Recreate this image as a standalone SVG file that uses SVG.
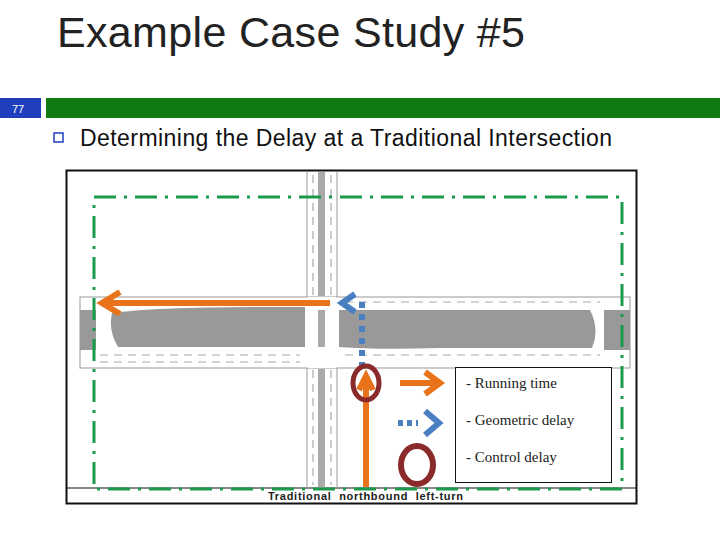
<svg xmlns="http://www.w3.org/2000/svg" width="720" height="540" viewBox="0 0 720 540">
<style>
.t{font-family:"Liberation Sans",Arial,sans-serif}
.s{font-family:"Liberation Serif","Times New Roman",serif;font-size:15px;fill:#222}
.lane{stroke:#aaa;stroke-width:1.2;stroke-dasharray:8 6;fill:none}
.or{stroke:#e8731a;stroke-width:6;fill:none}
.bl{stroke:#4a7fc1;stroke-width:6;fill:none}
</style>
<rect width="720" height="540" fill="#fff"/>
<g id="header">
<text class="t" x="57" y="47" font-size="43" fill="#222" textLength="468">Example Case Study #5</text>
<rect x="0" y="98" width="41" height="20" fill="#1f3fbf"/>
<text class="t" x="12" y="113" font-size="11" fill="#fff">77</text>
<rect x="46" y="98" width="674" height="20" fill="#127a12"/>
<rect x="54" y="133" width="9" height="9" fill="none" stroke="#1f3fbf" stroke-width="1.5"/>
<text class="t" x="80" y="146" font-size="23" fill="#111" textLength="532">Determining the Delay at a Traditional Intersection</text>
</g>
<g id="frame">
<rect x="66.5" y="170.5" width="570" height="333" fill="#fff" stroke="#111" stroke-width="2"/>
<line x1="66" y1="488" x2="636" y2="488" stroke="#111" stroke-width="1"/>
<text class="t" x="268" y="500" font-size="11" font-weight="bold" fill="#222" textLength="195" xml:space="preserve">Traditional  northbound  left-turn</text>
</g>
<g id="road">
<rect x="80" y="297" width="550" height="71" fill="#fff" stroke="#999"/>
<rect x="80" y="310" width="16" height="40" fill="#999"/>
<rect x="604" y="310" width="26" height="40" fill="#999"/>
<path d="M112 313 Q160 306 305 307 L305 347 L118 347 Q108 330 112 313Z" fill="#999"/>
<path d="M339 310 L590 310 Q600 330 592 348 L440 348 Q380 350 339 347Z" fill="#999"/>
<line class="lane" x1="100" y1="302" x2="300" y2="302"/>
<line class="lane" x1="345" y1="302" x2="600" y2="302"/>
<line class="lane" x1="100" y1="355" x2="300" y2="355"/>
<line class="lane" x1="345" y1="355" x2="600" y2="355"/>
<line class="lane" x1="100" y1="362" x2="300" y2="362"/>
<path d="M307 172 L307 297 M337 172 L337 297 M307 368 L307 488 M337 368 L337 488" stroke="#999" fill="none"/>
<rect x="307.5" y="297" width="29" height="71" fill="#fff"/>
<rect x="318" y="172" width="7" height="124" fill="#aaa"/>
<rect x="318" y="310" width="7" height="37" fill="#aaa"/>
<rect x="318" y="369" width="7" height="119" fill="#aaa"/>
<line class="lane" x1="313" y1="175" x2="313" y2="295"/>
<line class="lane" x1="331" y1="175" x2="331" y2="295"/>
<line class="lane" x1="313" y1="370" x2="313" y2="485"/>
<line class="lane" x1="331" y1="370" x2="331" y2="485"/>
</g>
<g id="box">
<rect x="94" y="197" width="528" height="292" fill="none" stroke="#1a9a4a" stroke-width="3" stroke-dasharray="22 8 3 8"/>
</g>
<g id="connectors">
<line class="or" x1="330" y1="303" x2="104" y2="303"/>
<polyline class="or" points="120,292 102,303 120,314"/>
<polyline class="bl" points="355,294 342,303 355,312"/>
<line class="bl" x1="362" y1="302" x2="362" y2="366" stroke-dasharray="6 6"/>
<line class="or" x1="366" y1="487" x2="366" y2="380"/>
<polyline class="or" points="359,390 366,376 373,390"/>
<ellipse cx="366" cy="383" rx="13" ry="17" fill="none" stroke="#8b2a2a" stroke-width="5"/>
</g>
<g id="legend">
<rect x="455.5" y="367.5" width="156" height="115" fill="#fff" stroke="#111"/>
<line class="or" x1="400" y1="383" x2="438" y2="383"/>
<polyline class="or" points="425,372 440,383 425,394"/>
<line class="bl" x1="398" y1="423" x2="418" y2="423" stroke-dasharray="5 4"/>
<polyline class="bl" points="425,411 439,423 425,435"/>
<ellipse cx="417" cy="465" rx="16" ry="19" fill="none" stroke="#8b2a2a" stroke-width="6"/>
<text class="s" x="466" y="388">- Running time</text>
<text class="s" x="466" y="425">- Geometric delay</text>
<text class="s" x="466" y="462">- Control delay</text>
</g>
</svg>
